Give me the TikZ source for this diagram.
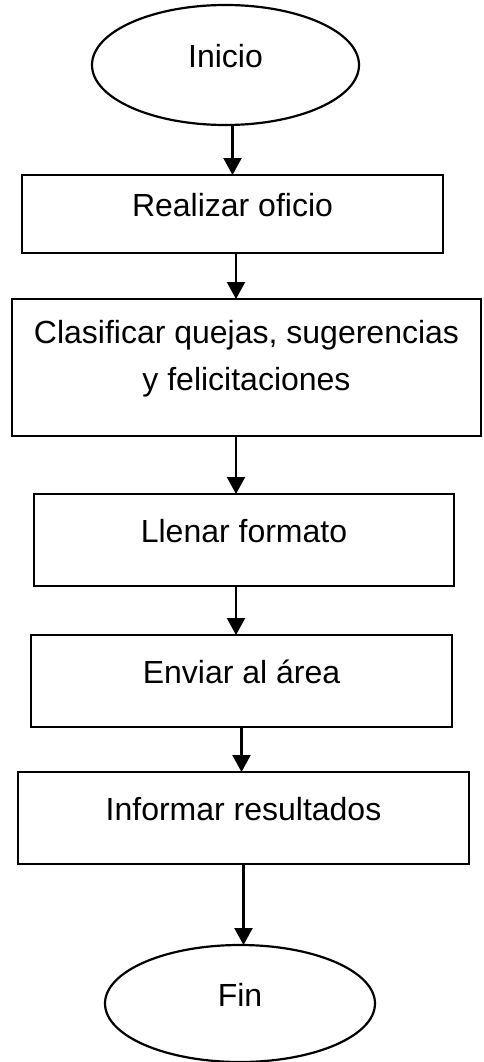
\documentclass[tikz,border=0pt]{standalone}
\usepackage{fontspec}
\setmainfont{Liberation Sans}
\usetikzlibrary{arrows.meta,positioning,shapes.geometric}

\begin{document}
\begin{tikzpicture}[
  x=1pt, y=1pt,
  every node/.style={font=\fontsize{32}{47}\selectfont, inner sep=0pt, outer sep=0pt},
  caja/.style={draw, line width=2.2pt},
  paso/.style={caja, rectangle, minimum height=92pt, text height=23pt, text depth=18pt},
  extremo/.style={caja, ellipse, text height=23pt, text depth=18pt},
  flecha/.style={line width=2.2pt, -{Triangle[width=18pt,length=17pt]}}
]
  \useasboundingbox (0,0) rectangle (484,-1062);

  % --- Inicio y pasos ---
  \node (inicio) [extremo, minimum width=267pt, minimum height=120pt] at (225.5,-65) {Inicio};

  \node (realizar) [paso, below=50pt of inicio, xshift=7pt,
    minimum width=421pt, minimum height=78pt] {Realizar oficio};

  \node (clasif) [caja, rectangle, below=46pt of realizar, xshift=14pt,
    minimum width=469pt, minimum height=137pt, align=center
  ] {Clasificar quejas, sugerencias\\y felicitaciones\rule[-25pt]{0pt}{0pt}};

  \node (llenar) [paso, below=58pt of clasif, xshift=-2.5pt, minimum width=420pt] {Llenar formato};
  \node (enviar) [paso, below=49pt of llenar, xshift=-2.5pt, minimum width=421pt] {Enviar al área};
  \node (informar) [paso, below=45pt of enviar, xshift=2pt, minimum width=451pt] {Informar resultados};

  % --- Fin ---
  \node (fin) [extremo, below=81pt of informar, xshift=-3.5pt,
    minimum width=270pt, minimum height=117pt] {Fin};

  % Flechas
  \coordinate (eje) at (236,0);
  \draw[flecha] (inicio.south -| realizar) -- (realizar.north);
  \draw[flecha] (realizar.south -| eje) -- (clasif.north -| eje);
  \draw[flecha] (clasif.south -| eje) -- (llenar.north -| eje);
  \draw[flecha] (llenar.south -| eje) -- (enviar.north -| eje);
  \draw[flecha] (enviar) -- (enviar |- informar.north);
  \draw[flecha] (informar) -- (informar |- fin.north);
\end{tikzpicture}
\end{document}
